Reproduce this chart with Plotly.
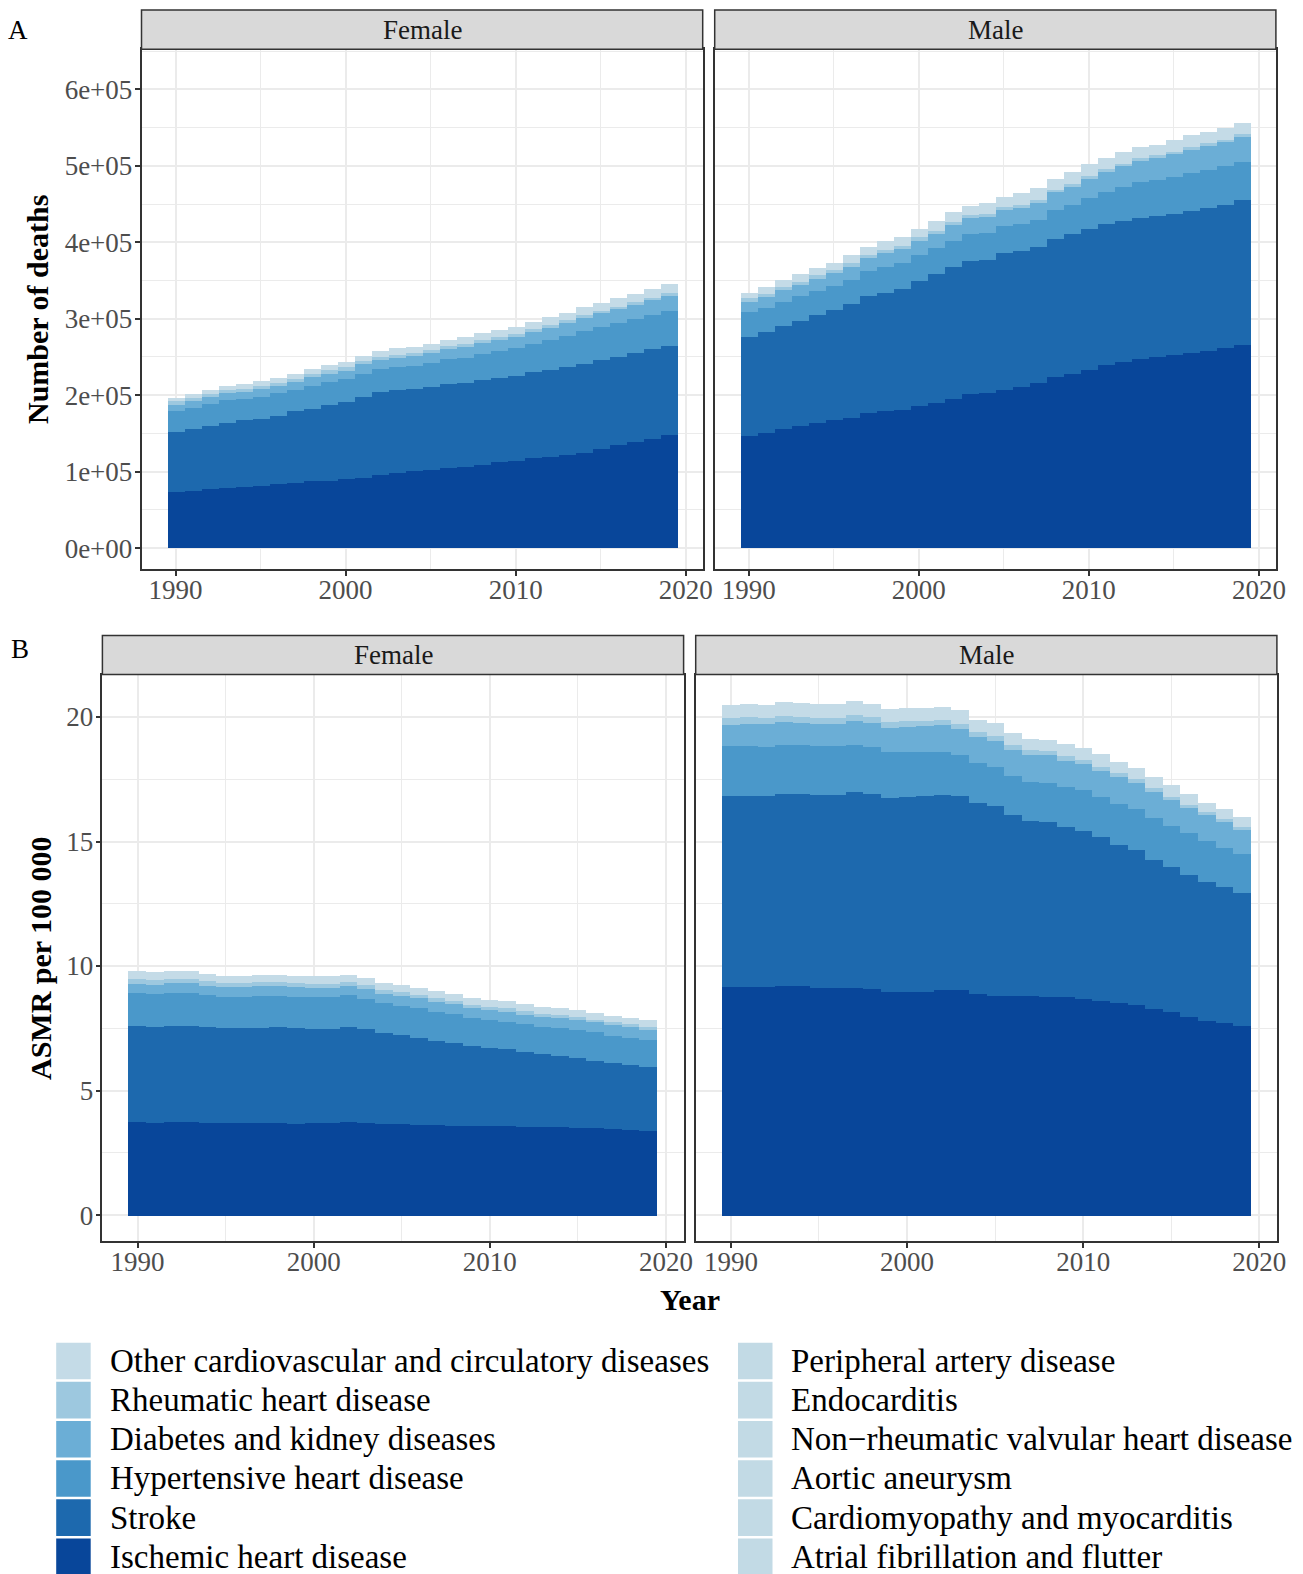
import plotly.graph_objects as go

# ---------------------------------------------------------------- data
years = list(range(1990, 2020))

causes = [
    "Other cardiovascular and circulatory diseases",
    "Rheumatic heart disease",
    "Diabetes and kidney diseases",
    "Hypertensive heart disease",
    "Stroke",
    "Ischemic heart disease",
    "Peripheral artery disease",
    "Endocarditis",
    "Non\u2212rheumatic valvular heart disease",
    "Aortic aneurysm",
    "Cardiomyopathy and myocarditis",
    "Atrial fibrillation and flutter",
]
cause_colors = [
    "#c4dbe7", "#9dc8df", "#6baed6", "#4a98ca", "#1d69ae", "#08469a",
    "#c2dae5", "#c2dae5", "#c2dae5", "#c2dae5", "#c2dae5", "#c2dae5",
]
# stacking order, bottom to top
stack_order = [
    "Ischemic heart disease",
    "Stroke",
    "Hypertensive heart disease",
    "Diabetes and kidney diseases",
    "Rheumatic heart disease",
    "Other cardiovascular and circulatory diseases",
]

# Number of deaths, female
deaths_f_ihd = [73000, 75000, 77000, 78000, 80000, 81000, 83000, 85000, 87000, 88000,
                90000, 92000, 95000, 98000, 100000, 102000, 104000, 106000, 109000, 112000,
                114000, 117000, 119000, 122000, 124000, 130000, 135000, 139000, 143000, 148000]
deaths_f_stroke = [79000, 80000, 83000, 86000, 87000, 88000, 90000, 94000, 95000, 99000,
                   101000, 105000, 109000, 109000, 108000, 109000, 110000, 110000, 111000, 110000,
                   111000, 113000, 114000, 115000, 117000, 116000, 115000, 116000, 117000, 116000]
deaths_f_hyp = [27000, 28500, 28000, 29000, 28000, 29000, 29000, 28000, 30000, 30000,
                30000, 31000, 30000, 30000, 30000, 31000, 33000, 33000, 34000, 35000,
                36000, 37000, 39000, 40000, 43000, 43000, 44000, 44000, 45000, 46000]
deaths_f_diab = [8000, 8000, 9000, 9000, 9000, 10000, 10000, 10000, 11000, 11000,
                 11000, 12000, 12000, 12000, 13000, 13000, 13000, 14000, 14000, 15000,
                 15000, 16000, 16000, 17000, 17000, 18000, 18000, 19000, 19000, 20000]
deaths_f_rhd = [4500, 4500, 4500, 4400, 4400, 4300, 4300, 4200, 4200, 4100,
                4100, 4000, 4000, 3900, 3900, 3800, 3800, 3700, 3700, 3600,
                3600, 3500, 3500, 3500, 3400, 3400, 3400, 3300, 3300, 3300]
deaths_f_other = [5000, 5000, 5200, 5500, 5500, 5600, 6200, 6600, 6800, 7000,
                  7200, 7400, 8000, 8200, 8000, 8200, 8600, 8800, 9000, 9000,
                  9300, 9600, 10000, 10000, 10200, 10500, 10800, 11000, 11200, 11500]

# Number of deaths, male
deaths_m_ihd = [147000, 150000, 155000, 160000, 164000, 167000, 170000, 176000, 179000, 180000,
                185000, 190000, 195000, 201000, 202000, 207000, 210000, 216000, 224000, 228000,
                233000, 239000, 243000, 247000, 250000, 252000, 255000, 258000, 262000, 265000]
deaths_m_stroke = [129000, 133000, 135000, 137000, 140000, 144000, 149000, 153000, 155000, 159000,
                   164000, 168000, 173000, 174000, 174000, 179000, 178000, 178000, 180000, 182000,
                   184000, 185000, 185000, 185000, 184000, 185000, 186000, 187000, 187000, 190000]
deaths_m_hyp = [32000, 31000, 32000, 32000, 32000, 32000, 32000, 33000, 34000, 34000,
                34000, 34000, 34000, 36000, 36000, 35000, 35000, 35000, 38000, 38000,
                41000, 42000, 44000, 46000, 47000, 48000, 49000, 49000, 50000, 50000]
deaths_m_diab = [14000, 14000, 15000, 15000, 16000, 16000, 17000, 17000, 18000, 18000,
                 19000, 19000, 20000, 20000, 21000, 21000, 22000, 22000, 23000, 24000,
                 25000, 26000, 27000, 28000, 29000, 30000, 31000, 32000, 32000, 33000]
deaths_m_rhd = [4500, 4500, 4400, 4400, 4300, 4300, 4200, 4200, 4100, 4100,
                4000, 4000, 3900, 3900, 3800, 3800, 3700, 3700, 3600, 3600,
                3500, 3500, 3400, 3400, 3300, 3300, 3200, 3200, 3100, 3100]
deaths_m_other = [7500, 8500, 9000, 10000, 9500, 9500, 10500, 10700, 11500, 11800,
                  11500, 12500, 12800, 12500, 14000, 13500, 15000, 15500, 14500, 15500,
                  15000, 14600, 14800, 14500, 14200, 15000, 15300, 14700, 15500, 14800]

# Age-standardised mortality rate per 100 000, female
asmr_f_ihd = [3.75, 3.72, 3.76, 3.76, 3.73, 3.72, 3.71, 3.72, 3.71, 3.69,
              3.71, 3.72, 3.76, 3.73, 3.68, 3.68, 3.65, 3.64, 3.61, 3.60,
              3.60, 3.59, 3.57, 3.56, 3.55, 3.53, 3.51, 3.47, 3.43, 3.39]
asmr_f_stroke = [3.85, 3.86, 3.84, 3.86, 3.84, 3.80, 3.81, 3.82, 3.84, 3.83,
                 3.79, 3.78, 3.79, 3.77, 3.65, 3.57, 3.47, 3.36, 3.31, 3.20,
                 3.14, 3.09, 3.01, 2.94, 2.85, 2.80, 2.71, 2.65, 2.63, 2.59]
asmr_f_hyp = [1.34, 1.32, 1.35, 1.33, 1.29, 1.27, 1.27, 1.28, 1.28, 1.27,
              1.26, 1.27, 1.29, 1.21, 1.19, 1.18, 1.21, 1.19, 1.18, 1.14,
              1.12, 1.11, 1.09, 1.07, 1.11, 1.10, 1.13, 1.10, 1.08, 1.06]
asmr_f_diab = [0.37, 0.37, 0.37, 0.37, 0.37, 0.37, 0.37, 0.38, 0.38, 0.38,
               0.38, 0.38, 0.38, 0.38, 0.38, 0.39, 0.39, 0.39, 0.39, 0.39,
               0.40, 0.40, 0.40, 0.40, 0.41, 0.41, 0.41, 0.42, 0.42, 0.42]
asmr_f_rhd = [0.20, 0.20, 0.19, 0.19, 0.19, 0.18, 0.18, 0.18, 0.17, 0.17,
              0.17, 0.16, 0.16, 0.16, 0.15, 0.15, 0.15, 0.14, 0.14, 0.14,
              0.13, 0.13, 0.13, 0.12, 0.12, 0.12, 0.11, 0.11, 0.11, 0.10]
asmr_f_other = [0.29, 0.29, 0.29, 0.29, 0.29, 0.29, 0.29, 0.29, 0.29, 0.29,
                0.29, 0.29, 0.29, 0.28, 0.28, 0.28, 0.28, 0.28, 0.28, 0.28,
                0.28, 0.28, 0.28, 0.28, 0.28, 0.28, 0.28, 0.28, 0.28, 0.28]

# Age-standardised mortality rate per 100 000, male
asmr_m_ihd = [9.18, 9.18, 9.18, 9.23, 9.23, 9.15, 9.15, 9.15, 9.10, 8.99,
              8.99, 8.99, 9.07, 9.07, 8.91, 8.83, 8.83, 8.83, 8.79, 8.79,
              8.71, 8.63, 8.55, 8.47, 8.31, 8.19, 7.98, 7.82, 7.74, 7.62]
asmr_m_stroke = [7.66, 7.66, 7.66, 7.70, 7.69, 7.75, 7.75, 7.86, 7.84, 7.78,
                 7.82, 7.85, 7.83, 7.77, 7.66, 7.60, 7.24, 7.01, 7.01, 6.81,
                 6.73, 6.57, 6.34, 6.19, 5.97, 5.79, 5.71, 5.59, 5.44, 5.33]
asmr_m_hyp = [1.99, 1.99, 1.98, 1.97, 1.95, 1.93, 1.93, 1.89, 1.86, 1.83,
              1.78, 1.76, 1.71, 1.65, 1.59, 1.56, 1.57, 1.55, 1.56, 1.59,
              1.64, 1.61, 1.65, 1.68, 1.68, 1.65, 1.67, 1.61, 1.57, 1.55]
asmr_m_diab = [0.87, 0.90, 0.91, 0.91, 0.90, 0.91, 0.91, 0.97, 0.97, 0.97,
               1.02, 1.04, 1.07, 1.05, 1.05, 1.08, 1.05, 1.10, 1.11, 1.07,
               1.05, 1.05, 1.08, 1.04, 1.05, 1.05, 1.01, 1.05, 1.05, 0.99]
asmr_m_rhd = [0.27, 0.27, 0.26, 0.26, 0.26, 0.25, 0.25, 0.24, 0.24, 0.23,
              0.23, 0.22, 0.22, 0.21, 0.20, 0.20, 0.19, 0.18, 0.18, 0.17,
              0.17, 0.16, 0.15, 0.15, 0.14, 0.14, 0.13, 0.12, 0.12, 0.11]
asmr_m_other = [0.54, 0.54, 0.52, 0.54, 0.55, 0.56, 0.56, 0.54, 0.54, 0.55,
                0.52, 0.52, 0.50, 0.53, 0.50, 0.50, 0.51, 0.47, 0.45, 0.49,
                0.46, 0.50, 0.45, 0.45, 0.44, 0.46, 0.44, 0.39, 0.39, 0.40]

panels = [
    # (x axis, y axis, series in stack order)
    ("x", "y", [deaths_f_ihd, deaths_f_stroke, deaths_f_hyp, deaths_f_diab, deaths_f_rhd, deaths_f_other]),
    ("x2", "y2", [deaths_m_ihd, deaths_m_stroke, deaths_m_hyp, deaths_m_diab, deaths_m_rhd, deaths_m_other]),
    ("x3", "y3", [asmr_f_ihd, asmr_f_stroke, asmr_f_hyp, asmr_f_diab, asmr_f_rhd, asmr_f_other]),
    ("x4", "y4", [asmr_m_ihd, asmr_m_stroke, asmr_m_hyp, asmr_m_diab, asmr_m_rhd, asmr_m_other]),
]

# ---------------------------------------------------------------- figure
W, H = 1303, 1574
FONT = "Liberation Serif"
color_of = dict(zip(causes, cause_colors))


def px(v):
    return v / W


def py(v):
    return 1 - v / H


fig = go.Figure()
for xa, ya, series in panels:
    for name, vals in zip(stack_order, series):
        fig.add_trace(go.Bar(
            x=years, y=vals, name=name, xaxis=xa, yaxis=ya, width=1,
            marker=dict(color=color_of[name], line=dict(width=0)),
            showlegend=False,
        ))

grid = "#ebebeb"
tickfont = dict(family=FONT, size=27, color="#4d4d4d")


def xaxis(domain, anchor):
    return dict(domain=domain, anchor=anchor, range=[1988, 2021], automargin=False,
                tickvals=[1990, 2000, 2010, 2020], ticks="outside", ticklen=5,
                tickwidth=1.5, tickcolor="#333333", tickfont=tickfont,
                ticklabelstandoff=-9,
                showgrid=True, gridcolor=grid, gridwidth=2,
                minor=dict(dtick=5, tick0=1985, showgrid=True, gridcolor=grid, gridwidth=1),
                showline=True, mirror=True, linecolor="#333333", linewidth=1.5,
                zeroline=False, fixedrange=True)


def yaxis(domain, anchor, rng, vals, texts, minor_dtick, labels):
    return dict(domain=domain, anchor=anchor, range=rng, automargin=False,
                tickvals=vals, ticktext=texts,
                ticks="outside" if labels else "", ticklen=5, tickwidth=1.5,
                tickcolor="#333333", tickfont=tickfont, showticklabels=labels,
                ticklabelstandoff=-3,
                showgrid=True, gridcolor=grid, gridwidth=2,
                minor=dict(dtick=minor_dtick, tick0=0, showgrid=True, gridcolor=grid, gridwidth=1),
                showline=True, mirror=True, linecolor="#333333", linewidth=1.5,
                zeroline=False, fixedrange=True)


a_top, a_bot = py(49.2), py(569.2)
b_top, b_bot = py(674.6), py(1240.8)
a_fx, a_mx = [px(141.5), px(702.7)], [px(714.7), px(1275.9)]
b_fx, b_mx = [px(102.4), px(683.6)], [px(695.7), px(1276.9)]

deaths_ticks = [0, 100000, 200000, 300000, 400000, 500000, 600000]
deaths_labels = ["0e+00", "1e+05", "2e+05", "3e+05", "4e+05", "5e+05", "6e+05"]
asmr_ticks = [0, 5, 10, 15, 20]
asmr_labels = ["0", "5", "10", "15", "20"]
deaths_range = [-27600, 652500]
asmr_range = [-1.03, 21.7]

fig.update_layout(
    width=W, height=H, autosize=False, margin=dict(l=0, r=0, t=0, b=0, autoexpand=False),
    paper_bgcolor="white", plot_bgcolor="white",
    barmode="stack", bargap=0, showlegend=False,
    font=dict(family=FONT, color="black"),
    xaxis=xaxis(a_fx, "y"), xaxis2=xaxis(a_mx, "y2"),
    xaxis3=xaxis(b_fx, "y3"), xaxis4=xaxis(b_mx, "y4"),
    yaxis=yaxis([a_bot, a_top], "x", deaths_range, deaths_ticks, deaths_labels, 50000, True),
    yaxis2=yaxis([a_bot, a_top], "x2", deaths_range, deaths_ticks, deaths_labels, 50000, False),
    yaxis3=yaxis([b_bot, b_top], "x3", asmr_range, asmr_ticks, asmr_labels, 2.5, True),
    yaxis4=yaxis([b_bot, b_top], "x4", asmr_range, asmr_ticks, asmr_labels, 2.5, False),
)

shapes, annotations = [], []

# facet strips
strips = [
    (a_fx, py(10.0), a_top, "Female"), (a_mx, py(10.0), a_top, "Male"),
    (b_fx, py(635.4), b_top, "Female"), (b_mx, py(635.4), b_top, "Male"),
]
for (x0, x1), y1, y0, label in strips:
    shapes.append(dict(type="rect", xref="paper", yref="paper", x0=x0, x1=x1, y0=y0, y1=y1,
                       fillcolor="#d9d9d9", line=dict(color="#333333", width=1.5), layer="above"))
    annotations.append(dict(xref="paper", yref="paper", x=(x0 + x1) / 2, y=(y0 + y1) / 2,
                            text=label, showarrow=False, xanchor="center", yanchor="middle",
                            font=dict(family=FONT, size=27, color="#1a1a1a")))

# panel tags and axis titles
annotations += [
    dict(xref="paper", yref="paper", x=px(18), y=py(30), text="A", showarrow=False,
         xanchor="center", yanchor="middle", font=dict(family=FONT, size=27, color="black")),
    dict(xref="paper", yref="paper", x=px(20), y=py(649), text="B", showarrow=False,
         xanchor="center", yanchor="middle", font=dict(family=FONT, size=27, color="black")),
    dict(xref="paper", yref="paper", x=px(37), y=py(310), text="<b>Number of deaths</b>",
         showarrow=False, textangle=-90, xanchor="center", yanchor="middle",
         font=dict(family=FONT, size=30, color="black")),
    dict(xref="paper", yref="paper", x=px(40), y=py(958), text="<b>ASMR per 100 000</b>",
         showarrow=False, textangle=-90, xanchor="center", yanchor="middle",
         font=dict(family=FONT, size=30, color="black")),
    dict(xref="paper", yref="paper", x=px(689.5), y=py(1299), text="<b>Year</b>",
         showarrow=False, xanchor="center", yanchor="middle",
         font=dict(family=FONT, size=30, color="black")),
]

# legend: two columns of six keys
row_pitch = 39.15
first_center = 1361.0
col_swatch_x = [56.2, 738.0]
col_text_x = [108.0, 788.5]
for i, name in enumerate(causes):
    col, row = divmod(i, 6)
    cy = first_center + row * row_pitch
    sx = col_swatch_x[col]
    shapes.append(dict(type="rect", xref="paper", yref="paper",
                       x0=px(sx), x1=px(sx + 34.5), y0=py(min(cy + 18.3, H)), y1=py(cy - 18.3),
                       fillcolor=color_of[name], line=dict(width=0)))
    annotations.append(dict(xref="paper", yref="paper", x=px(col_text_x[col]), y=py(cy),
                            text=name, showarrow=False, xanchor="left", yanchor="middle",
                            font=dict(family=FONT, size=33, color="black")))

fig.update_layout(shapes=shapes, annotations=annotations)

# keep the page exactly the figure's size, with no scrollbars
page_css = (
    "document.documentElement.style.overflow='hidden';"
    "document.body.style.overflow='hidden';"
    "document.body.style.margin='0';"
)
fig.write_html("out.html", config={"responsive": False}, post_script=page_css)
